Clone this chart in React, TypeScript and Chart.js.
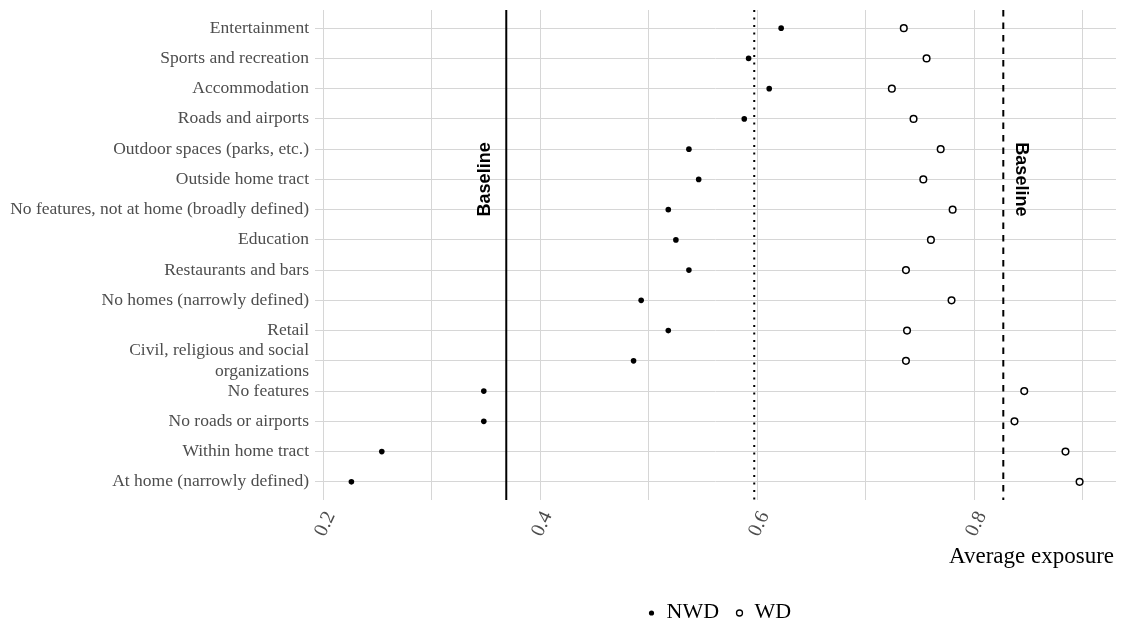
import React, { useEffect, useRef } from "react";
import { Chart, registerables } from "chart.js";

Chart.register(...registerables);

// Activity categories, top to bottom
const categories: string[] = [
  "Entertainment",
  "Sports and recreation",
  "Accommodation",
  "Roads and airports",
  "Outdoor spaces (parks, etc.)",
  "Outside home tract",
  "No features, not at home (broadly defined)",
  "Education",
  "Restaurants and bars",
  "No homes (narrowly defined)",
  "Retail",
  "Civil, religious and social\norganizations",
  "No features",
  "No roads or airports",
  "Within home tract",
  "At home (narrowly defined)",
];

// Average exposure per category
const nwdValues: number[] = [
  0.622, 0.592, 0.611, 0.588, 0.537, 0.546, 0.518, 0.525,
  0.537, 0.493, 0.518, 0.486, 0.348, 0.348, 0.254, 0.226,
];
const wdValues: number[] = [
  0.735, 0.756, 0.724, 0.744, 0.769, 0.753, 0.780, 0.760,
  0.737, 0.779, 0.738, 0.737, 0.846, 0.837, 0.884, 0.897,
];

// Reference levels
const baselineSolid = 0.3687;
const baselineDotted = 0.5972;
const baselineDashed = 0.8267;

const xGridValues: number[] = [0.2, 0.3, 0.4, 0.5, 0.6, 0.7, 0.8, 0.9];
const xTickLabels: { value: number; text: string }[] = [
  { value: 0.2, text: "0.2" },
  { value: 0.4, text: "0.4" },
  { value: 0.6, text: "0.6" },
  { value: 0.8, text: "0.8" },
];

const seriesNames = ["NWD", "WD"];
const xTitle = "Average exposure";
const baselineText = "Baseline";

const SERIF = "'Liberation Serif', 'Times New Roman', serif";
const SANS = "'Liberation Sans', Arial, sans-serif";
const GRID = "#d6d6d6";

export default function App() {
  const canvasRef = useRef<HTMLCanvasElement | null>(null);

  useEffect(() => {
    const canvas = canvasRef.current;
    if (!canvas) return;

    const all = [...nwdValues, ...wdValues];
    const lo = Math.min(...all);
    const hi = Math.max(...all);
    const pad = (hi - lo) * 0.05;

    const overlay = {
      id: "overlay",
      beforeDatasetsDraw(chart: any) {
        const { ctx, chartArea, scales } = chart;
        const xs = scales.x;
        const ys = scales.y;
        const drawV = (v: number, dash: number[]) => {
          const px = xs.getPixelForValue(v);
          ctx.save();
          ctx.strokeStyle = "#000";
          ctx.lineWidth = 2;
          ctx.setLineDash(dash);
          ctx.beginPath();
          ctx.moveTo(px, chartArea.top);
          ctx.lineTo(px, chartArea.bottom);
          ctx.stroke();
          ctx.restore();
        };
        drawV(baselineSolid, []);
        drawV(baselineDotted, [2, 5.5]);
        drawV(baselineDashed, [6.5, 6]);

        // Baseline annotations
        const yMid = ys.getPixelForValue(5);
        ctx.save();
        ctx.fillStyle = "#000";
        ctx.font = `bold 18px ${SANS}`;
        ctx.textAlign = "center";
        ctx.textBaseline = "middle";
        ctx.translate(xs.getPixelForValue(baselineSolid) - 21, yMid);
        ctx.rotate(-Math.PI / 2);
        ctx.fillText(baselineText, 0, 0);
        ctx.restore();

        ctx.save();
        ctx.fillStyle = "#000";
        ctx.font = `bold 18px ${SANS}`;
        ctx.textAlign = "center";
        ctx.textBaseline = "middle";
        ctx.translate(xs.getPixelForValue(baselineDashed) + 18, yMid);
        ctx.rotate(Math.PI / 2);
        ctx.fillText(baselineText, 0, 0);
        ctx.restore();
      },
      afterDraw(chart: any) {
        const { ctx, chartArea, scales } = chart;
        const xs = scales.x;

        // Rotated x tick labels
        ctx.save();
        ctx.fillStyle = "#4d4d4d";
        ctx.font = `20px ${SERIF}`;
        ctx.textAlign = "center";
        ctx.textBaseline = "middle";
        for (const t of xTickLabels) {
          const px = xs.getPixelForValue(t.value);
          ctx.save();
          ctx.translate(px + 2, chartArea.bottom + 24);
          ctx.rotate((-65 * Math.PI) / 180);
          ctx.fillText(t.text, 0, 0);
          ctx.restore();
        }
        ctx.restore();

        // Axis title
        ctx.save();
        ctx.fillStyle = "#000";
        ctx.font = `23px ${SERIF}`;
        ctx.textAlign = "right";
        ctx.textBaseline = "alphabetic";
        ctx.fillText(xTitle, chartArea.right - 2, chartArea.bottom + 63);
        ctx.restore();

        // Legend
        const cx = (chartArea.left + chartArea.right) / 2;
        const ly = chartArea.bottom + 118;
        ctx.save();
        ctx.font = `22px ${SERIF}`;
        ctx.textBaseline = "alphabetic";
        ctx.textAlign = "left";
        ctx.fillStyle = "#000";
        const x0 = cx - 64;
        ctx.beginPath();
        ctx.arc(x0, ly - 5, 2.6, 0, Math.PI * 2);
        ctx.fill();
        ctx.fillText(seriesNames[0], x0 + 15, ly);
        const x1 = x0 + 88;
        ctx.beginPath();
        ctx.lineWidth = 1.3;
        ctx.strokeStyle = "#000";
        ctx.arc(x1, ly - 5, 3, 0, Math.PI * 2);
        ctx.stroke();
        ctx.fillText(seriesNames[1], x1 + 15, ly);
        ctx.restore();
      },
    };

    const chart = new Chart(canvas, {
      type: "scatter",
      data: {
        datasets: [
          {
            label: seriesNames[0],
            data: nwdValues.map((v, i) => ({ x: v, y: i })),
            backgroundColor: "#000",
            borderColor: "#000",
            borderWidth: 0,
            pointRadius: 2.8,
          },
          {
            label: seriesNames[1],
            data: wdValues.map((v, i) => ({ x: v, y: i })),
            backgroundColor: "#fff",
            borderColor: "#000",
            borderWidth: 1.5,
            pointRadius: 3.3,
          },
        ],
      },
      options: {
        responsive: false,
        animation: false,
        events: [],
        layout: { padding: { top: 10, right: 6, left: 0, bottom: 0 } },
        plugins: {
          legend: { display: false },
          tooltip: { enabled: false },
        },
        scales: {
          x: {
            type: "linear",
            min: lo - pad,
            max: hi + pad,
            afterBuildTicks: (s: any) => {
              s.ticks = xGridValues.map((v) => ({ value: v }));
            },
            afterFit: (s: any) => {
              s.height = 128;
              s.paddingLeft = 0;
              s.paddingRight = 0;
            },
            ticks: { display: false },
            border: { display: false },
            grid: { color: GRID, lineWidth: 1, drawTicks: false },
          },
          y: {
            type: "linear",
            reverse: true,
            min: -0.6,
            max: categories.length - 1 + 0.6,
            afterBuildTicks: (s: any) => {
              s.ticks = categories.map((_, i) => ({ value: i }));
            },
            afterFit: (s: any) => {
              s.width = 315;
              s.paddingTop = 0;
              s.paddingBottom = 0;
            },
            ticks: {
              autoSkip: false,
              padding: 6,
              color: "#4d4d4d",
              font: { family: SERIF, size: 17.5, lineHeight: 1.15 },
              callback: (v: any) => {
                const label = categories[Math.round(Number(v))];
                if (label === undefined) return "";
                return label.includes("\n") ? label.split("\n") : label;
              },
            },
            border: { display: false },
            grid: { color: GRID, lineWidth: 1, drawTicks: false },
          },
        },
      },
      plugins: [overlay],
    });

    return () => chart.destroy();
  }, []);

  return (
    <div style={{ position: "fixed", left: 0, top: 0, width: 1122, height: 628, background: "#fff" }}>
      <canvas ref={canvasRef} width={1122} height={628} />
    </div>
  );
}
